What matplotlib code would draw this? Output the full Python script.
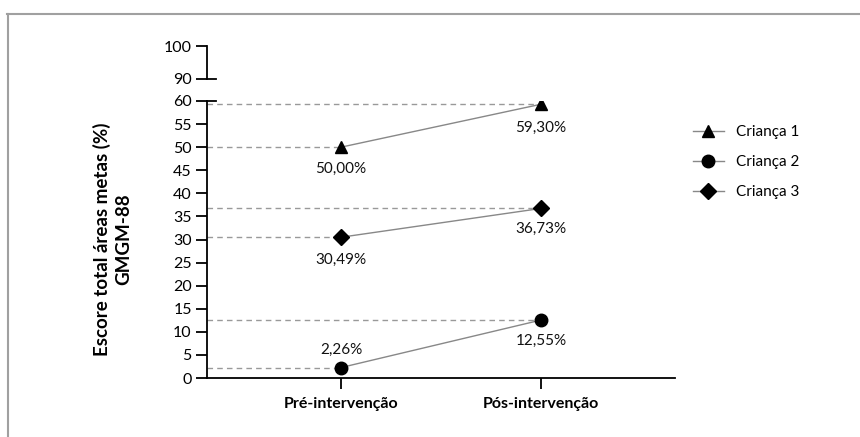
import matplotlib.pyplot as plt
from matplotlib.lines import Line2D

plt.rcParams['font.family'] = ['Lato', 'DejaVu Sans']

# data
fases = ['Pré-intervenção', 'Pós-intervenção']
criancas = ['Criança 1', 'Criança 2', 'Criança 3']
c1 = [50.00, 59.30]
c2 = [2.26, 12.55]
c3 = [30.49, 36.73]
rotulos1 = ['50,00%', '59,30%']
rotulos2 = ['2,26%', '12,55%']
rotulos3 = ['30,49%', '36,73%']
ticks_baixo = list(range(0, 65, 5))
ticks_cima = [90, 100]

W, H = 860, 437
fig = plt.figure(figsize=(W / 100, H / 100), dpi=100)

# grey frame (top and left)
fig.add_artist(Line2D([7 / W, 1], [1 - 14 / H, 1 - 14 / H], color='#a0a0a0', lw=1.5))
fig.add_artist(Line2D([8 / W, 8 / W], [0, 1 - 14 / H], color='#a0a0a0', lw=1.5))

x0, x1 = 207, 675
ax = fig.add_axes([x0 / W, 1 - 378 / H, (x1 - x0) / W, 277 / H])
ax2 = fig.add_axes([x0 / W, 1 - 79 / H, 0.05, 33 / H])

xs = [0, 1]
marcadores = ['^', 'o', 'D']
tamanhos = [9, 9, 8.5]
for serie, rot, m, ms in zip([c1, c2, c3], [rotulos1, rotulos2, rotulos3], marcadores, tamanhos):
    ax.plot(xs, serie, '-', color='#888888', lw=1.0, zorder=2)
    ax.plot(xs, serie, m, color='black', ms=ms, zorder=3)
    for x, y in zip(xs, serie):
        ax.plot([-0.67, x], [y, y], '--', color='#999999', lw=1.0, dashes=(4, 3), zorder=1)

# value labels
def rotulo(x, y, txt, dy):
    ax.annotate(txt, (x, y), xytext=(0, dy), textcoords='offset points',
                ha='center', va='center', fontsize=11, color='#111111')

rotulo(0, c1[0], rotulos1[0], -16)
rotulo(1, c1[1], rotulos1[1], -17)
rotulo(0, c3[0], rotulos3[0], -16)
rotulo(1, c3[1], rotulos3[1], -15)
rotulo(0, c2[0], rotulos2[0], 13)
rotulo(1, c2[1], rotulos2[1], -15)

ax.set_xlim(-0.67, 1.67)
ax.set_ylim(0, 60)
ax.set_yticks(ticks_baixo)
ax.set_xticks(xs)
ax.set_xticklabels(fases, fontsize=11.5, fontweight='bold')
for s in ['top', 'right']:
    ax.spines[s].set_visible(False)
for s in ['left', 'bottom']:
    ax.spines[s].set_linewidth(1.3)
ax.tick_params(axis='y', length=8, width=1.3, labelsize=11.5, pad=3)
ax.tick_params(axis='x', length=8, width=1.3, pad=6)
ax.set_ylabel('Escore total áreas metas (%)\nGMGM-88', fontsize=13.5, fontweight='bold',
              labelpad=29, linespacing=1.3)
# break mark at 60
ax.plot([0, 9 / (x1 - x0)], [60, 60], color='black', lw=1.3, transform=ax.get_yaxis_transform(),
        clip_on=False)

ax2.set_ylim(90, 100)
ax2.set_yticks(ticks_cima)
ax2.set_xticks([])
for s in ['top', 'right', 'bottom']:
    ax2.spines[s].set_visible(False)
ax2.spines['left'].set_linewidth(1.3)
ax2.patch.set_visible(False)
ax2.tick_params(axis='y', length=8, width=1.3, labelsize=11.5, pad=3)
ax2.plot([0, 9 / (0.05 * W)], [90, 90], color='black', lw=1.3, transform=ax2.get_yaxis_transform(),
         clip_on=False)

handles = [Line2D([], [], color='#888888', lw=1.0, marker=m, mfc='black', mec='black', ms=ms)
           for m, ms in zip(marcadores, tamanhos)]
fig.legend(handles, criancas, loc='upper left', bbox_to_anchor=(693 / W, 1 - 125 / H),
           frameon=False, fontsize=11, handlelength=2.0, handletextpad=0.8, labelspacing=1.05,
           borderpad=0, borderaxespad=0)

fig.savefig('out.png', dpi=100)
